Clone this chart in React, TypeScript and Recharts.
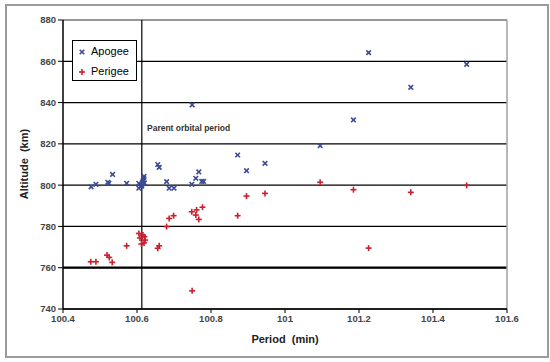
import { ScatterChart, Scatter, XAxis, YAxis, CartesianGrid, ReferenceLine } from "recharts";

const APOGEE_PERIOD = [
  100.476, 100.489, 100.521, 100.524, 100.534, 100.572, 100.605, 100.605, 100.613, 100.615, 100.617,
  100.618, 100.619, 100.612, 100.62, 100.656, 100.66, 100.68, 100.687, 100.7, 100.749, 100.748, 100.759,
  100.767, 100.775, 100.78, 100.872, 100.896, 100.946, 101.095, 101.185, 101.226, 101.34, 101.491,
];
const APOGEE_ALT = [
  799.2, 800.4, 801.4, 800.9, 805.2, 800.9, 800.9, 798.5, 800.0, 801.5, 802.5, 803.5, 804.3, 799.5, 801,
  810, 808.6, 801.7, 798.5, 798.5, 838.9, 800.4, 803.3, 806.4, 801.8, 801.8, 814.6, 807, 810.6, 819.1,
  831.6, 864.2, 847.4, 858.5,
];
const PERIGEE_PERIOD = [
  100.475, 100.489, 100.519, 100.525, 100.533, 100.572, 100.605, 100.608, 100.616, 100.622, 100.619,
  100.612, 100.62, 100.656, 100.66, 100.68, 100.687, 100.699, 100.748, 100.761, 100.759, 100.767, 100.777,
  100.872, 100.749, 100.896, 100.946, 101.095, 101.185, 101.226, 101.34, 101.491,
];
const PERIGEE_ALT = [
  762.9, 762.9, 766.1, 765, 762.6, 770.6, 776.6, 774.4, 775.8, 773.4, 772, 771.5, 775, 769.4, 770.6,
  779.9, 783.9, 785.2, 787.1, 788, 785.5, 783.4, 789.3, 785.2, 748.8, 794.7, 796, 801.4, 797.8, 769.5,
  796.5, 799.9,
];
const X_TICKS = [100.4, 100.6, 100.8, 101, 101.2, 101.4, 101.6];
const Y_TICKS = [740, 760, 780, 800, 820, 840, 860, 880];
const PARENT_PERIOD = 100.613;

const BLUE = "#3d4b94";
const RED = "#cc1f2e";
const FONT = "Liberation Sans, Arial, sans-serif";

const apogee = APOGEE_PERIOD.map((p, i) => ({ period: p, alt: APOGEE_ALT[i] }));
const perigee = PERIGEE_PERIOD.map((p, i) => ({ period: p, alt: PERIGEE_ALT[i] }));

const Cross = (props: any) => {
  const { cx, cy } = props;
  const s = 2.3;
  return (
    <g stroke={BLUE} strokeWidth={1.6}>
      <line x1={cx - s} y1={cy - s} x2={cx + s} y2={cy + s} />
      <line x1={cx - s} y1={cy + s} x2={cx + s} y2={cy - s} />
    </g>
  );
};

const Plus = (props: any) => {
  const { cx, cy } = props;
  const s = 3;
  return (
    <g stroke={RED} strokeWidth={1.6}>
      <line x1={cx - s} y1={cy} x2={cx + s} y2={cy} />
      <line x1={cx} y1={cy - s} x2={cx} y2={cy + s} />
    </g>
  );
};

const tickStyle = { fontSize: 9.5, fontWeight: 700, fill: "#444", fontFamily: FONT };

export default function App() {
  return (
    <div style={{ position: "absolute", left: 0, top: 0, width: 550, height: 362, background: "#fff", fontFamily: FONT }}>
      <div style={{ position: "absolute", left: 5, top: 4, width: 540, height: 350, border: "2px solid #9a9a9a" }} />
      <ScatterChart width={550} height={362} margin={{ top: 20, right: 43, bottom: 23, left: 0 }}>
        <CartesianGrid vertical={false} stroke="#000" strokeWidth={1.2} horizontalValues={Y_TICKS} />
        <XAxis
          type="number"
          dataKey="period"
          domain={[100.4, 101.6]}
          ticks={X_TICKS}
          tickFormatter={(v: number) => String(Math.round(v * 10) / 10)}
          height={30}
          axisLine={{ stroke: "#000", strokeWidth: 1.5 }}
          tickLine={{ stroke: "#000" }}
          tickSize={4}
          tick={tickStyle}
          allowDataOverflow
        />
        <YAxis
          type="number"
          dataKey="alt"
          domain={[740, 880]}
          ticks={Y_TICKS}
          width={63}
          axisLine={{ stroke: "#000", strokeWidth: 1.5 }}
          tickLine={{ stroke: "#000" }}
          tickSize={5}
          tick={tickStyle}
          allowDataOverflow
        />
        <ReferenceLine y={760} stroke="#000" strokeWidth={2.2} />
        <ReferenceLine y={880} stroke="#a0a0a0" strokeWidth={1.5} />
        <ReferenceLine x={101.6} stroke="#a0a0a0" strokeWidth={1.5} />
        <ReferenceLine x={PARENT_PERIOD} stroke="#000" strokeWidth={1.2} />
        <Scatter data={apogee} shape={Cross} isAnimationActive={false} />
        <Scatter data={perigee} shape={Plus} isAnimationActive={false} />
      </ScatterChart>
      <div style={{ position: "absolute", left: 147, top: 123, fontSize: 8.5, fontWeight: 700, color: "#333" }}>
        Parent orbital period
      </div>
      <div
        style={{
          position: "absolute",
          left: 24,
          top: 164,
          transform: "translate(-50%, -50%) rotate(-90deg)",
          fontSize: 11,
          fontWeight: 700,
          color: "#222",
          whiteSpace: "nowrap",
        }}
      >
        Altitude&nbsp;&nbsp;(km)
      </div>
      <div
        style={{
          position: "absolute",
          left: 285,
          top: 333,
          transform: "translateX(-50%)",
          fontSize: 11,
          fontWeight: 700,
          color: "#222",
          whiteSpace: "nowrap",
        }}
      >
        Period&nbsp;&nbsp;(min)
      </div>
      <div
        style={{
          position: "absolute",
          left: 72,
          top: 40,
          width: 63,
          height: 39,
          border: "1px solid #000",
          background: "#fff",
          fontSize: 11,
          color: "#000",
        }}
      >
        <svg width={10} height={10} style={{ position: "absolute", left: 4, top: 6 }}>
          <Cross cx={5} cy={5} />
        </svg>
        <div style={{ position: "absolute", left: 18, top: 4 }}>Apogee</div>
        <svg width={10} height={10} style={{ position: "absolute", left: 4, top: 26 }}>
          <Plus cx={5} cy={5} />
        </svg>
        <div style={{ position: "absolute", left: 18, top: 24 }}>Perigee</div>
      </div>
    </div>
  );
}
